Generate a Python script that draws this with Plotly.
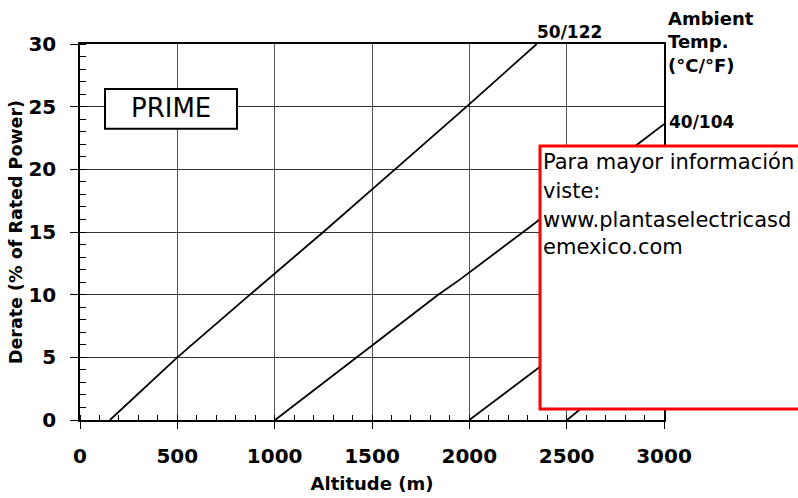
import plotly.graph_objects as go

# Derate curves (altitude in m, derate in % of rated power)
alt_50 = [154, 500, 873, 1250, 1618, 1986, 2346]
der_50 = [0, 5, 10, 15, 20, 25, 30]

alt_40 = [1002, 1421, 1840, 1951, 2311, 2856, 3000]
der_40 = [0, 5, 10, 11.2, 15.4, 21.9, 23.6]

alt_30 = [2000, 2359, 3000]
der_30 = [0, 4.2, 11.7]

alt_20 = [2502, 2565, 3000]
der_20 = [0, 0.8, 5.9]

x_ticks = [0, 500, 1000, 1500, 2000, 2500, 3000]
y_ticks = [0, 5, 10, 15, 20, 25, 30]

label_50 = "50/122"
label_40 = "40/104"
legend_title = "Ambient<br>Temp.<br>(°C/°F)"
info_lines = ["Para mayor información", "viste:", "www.plantaselectricasd", "emexico.com"]

FONT = "DejaVu Sans"

fig = go.Figure()
for xs, ys in [(alt_50, der_50), (alt_40, der_40), (alt_30, der_30), (alt_20, der_20)]:
    fig.add_trace(go.Scatter(x=xs, y=ys, mode="lines",
                             line=dict(color="black", width=1.8),
                             showlegend=False, hoverinfo="skip"))

fig.update_layout(
    width=798, height=498,
    margin=dict(l=80, r=134, t=44, b=78, autoexpand=False),
    paper_bgcolor="white", plot_bgcolor="white",
    font=dict(family=FONT, color="black"),
)

fig.update_xaxes(
    range=[0, 3000], tickvals=x_ticks, ticktext=[str(v) for v in x_ticks],
    showgrid=True, gridcolor="#555", gridwidth=1,
    showline=True, linecolor="black", linewidth=1.5, mirror=True,
    ticks="outside", ticklen=7, tickcolor="black", tickwidth=1,
    minor=dict(dtick=100, ticks="inside", ticklen=5, tickcolor="black", showgrid=False),
    tickfont=dict(family=FONT, size=20, color="black", weight="bold"),
    ticklabelstandoff=10,
    zeroline=False, automargin=False,
    title=dict(text="<b>Altitude (m)</b>", font=dict(family=FONT, size=18, color="black"), standoff=11),
)
fig.update_yaxes(
    range=[0, 30], tickvals=y_ticks, ticktext=[str(v) for v in y_ticks],
    showgrid=True, gridcolor="#333", gridwidth=1,
    showline=True, linecolor="black", linewidth=1.5, mirror=True,
    ticks="outside", ticklen=8, tickcolor="black", tickwidth=1,
    minor=dict(dtick=1, ticks="inside", ticklen=6, tickcolor="black", showgrid=False),
    tickfont=dict(family=FONT, size=20, color="black", weight="bold"),
    ticklabelstandoff=10,
    zeroline=False, automargin=False,
    title=dict(text="<b>Derate (% of Rated Power)</b>", font=dict(family=FONT, size=17.5, color="black"), standoff=1),
)

# line labels
fig.add_annotation(x=alt_50[-1], y=der_50[-1], text="<b>" + label_50 + "</b>",
                   xanchor="left", yanchor="bottom", showarrow=False, xshift=-2,
                   font=dict(family=FONT, size=17, color="black"))
fig.add_annotation(x=alt_40[-1], y=der_40[-1], text="<b>" + label_40 + "</b>",
                   xanchor="left", yanchor="middle", showarrow=False, xshift=3, yshift=2,
                   font=dict(family=FONT, size=17, color="black"))
fig.add_annotation(x=3000, xref="x", y=1.005, yref="paper", text="<b>" + legend_title + "</b>",
                   xanchor="left", yanchor="middle", align="left", showarrow=False, xshift=2,
                   font=dict(family=FONT, size=18, color="black"))

# PRIME box
fig.add_shape(type="rect", xref="paper", yref="paper", x0=0.0428, x1=0.2688, y0=0.7747, y1=0.8803,
              line=dict(color="black", width=2), fillcolor="white", layer="above")
fig.add_annotation(x=0.1558, y=0.8298, xref="paper", yref="paper", text="PRIME",
                   showarrow=False, xanchor="center", yanchor="middle",
                   font=dict(family=FONT, size=26, color="black"))

# info box overlay
fig.add_shape(type="rect", xref="paper", yref="paper", x0=0.7877, x1=1.25, y0=0.0293, y1=0.7287,
              line=dict(color="#ff0000", width=3), fillcolor="white", layer="above")
info_y_px = [161.5, 191, 219.5, 246.5]
for line_text, py in zip(info_lines, info_y_px):
    fig.add_annotation(x=0.7894, y=(420 - py) / 376, xref="paper", yref="paper", text=line_text,
                       showarrow=False, xanchor="left", yanchor="middle", align="left",
                       font=dict(family=FONT, size=21, color="black"))

fig.write_html("out.html", config={"displayModeBar": False},
               post_script="document.body.style.margin='0px';")
